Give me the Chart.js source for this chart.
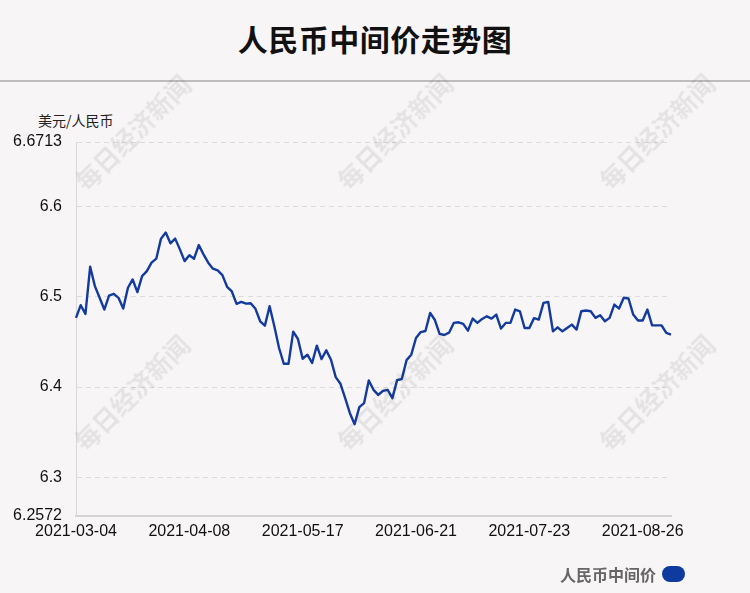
<!DOCTYPE html>
<html lang="zh-CN">
<head>
<meta charset="utf-8">
<title>人民币中间价走势图</title>
<script src="https://cdn.jsdelivr.net/npm/chart.js@4/dist/chart.umd.min.js"></script>
<style>
  html, body { margin: 0; padding: 0; }
  body { width: 750px; height: 593px; background: #f8f5f6; position: relative; overflow: hidden;
         font-family: "Liberation Sans", Arial, "Noto Sans CJK SC", sans-serif; }
  #title { position: absolute; left: 0; top: 16px; width: 750px; text-align: center;
           font: bold 30px "Noto Sans CJK SC", sans-serif; color: #111; letter-spacing: 0.5px; }
  #rule { position: absolute; left: 0; top: 80px; width: 750px; height: 2px; background: #bdbdbd; }
  #unit { position: absolute; left: 38px; top: 110px; font: 14px "Noto Sans CJK SC", sans-serif; color: #222; }
  #chartBox { position: absolute; left: 0; top: 0; width: 750px; height: 593px; }
  .wm { position: absolute; transform: translate(-50%, -50%) rotate(-45deg);
        font: bold 25px "Noto Sans CJK SC", sans-serif; color: rgba(0,0,0,0.075);
        white-space: nowrap; pointer-events: none; }
  #legend { position: absolute; left: 560px; top: 562px; display: flex; align-items: center;
            font: bold 16px "Noto Sans CJK SC", sans-serif; color: #666; }
  #legend .pill { display: inline-block; width: 23px; height: 16px; border-radius: 8px;
                  background: #0f3aa0; margin-left: 6px; }
</style>
</head>
<body>
<div id="title">人民币中间价走势图</div>
<div id="rule"></div>
<div id="unit">美元/人民币</div>
<div id="chartBox"><canvas id="rateChart" width="750" height="593"></canvas></div>
<div class="wm" style="left:132px;top:132px">每日经济新闻</div>
<div class="wm" style="left:394px;top:131px">每日经济新闻</div>
<div class="wm" style="left:656px;top:131px">每日经济新闻</div>
<div class="wm" style="left:131px;top:392px">每日经济新闻</div>
<div class="wm" style="left:394px;top:392px">每日经济新闻</div>
<div class="wm" style="left:656px;top:392px">每日经济新闻</div>
<div id="legend">人民币中间价<span class="pill"></span></div>

<script>
// ---- Data ----
const dates = [
  '2021-03-04','2021-03-05','2021-03-08','2021-03-09','2021-03-10','2021-03-11','2021-03-12',
  '2021-03-15','2021-03-16','2021-03-17','2021-03-18','2021-03-19','2021-03-22','2021-03-23',
  '2021-03-24','2021-03-25','2021-03-26','2021-03-29','2021-03-30','2021-03-31',
  '2021-04-01','2021-04-02','2021-04-06','2021-04-07','2021-04-08','2021-04-09','2021-04-12',
  '2021-04-13','2021-04-14','2021-04-15','2021-04-16','2021-04-19','2021-04-20','2021-04-21',
  '2021-04-22','2021-04-23','2021-04-26','2021-04-27','2021-04-28','2021-04-29','2021-04-30',
  '2021-05-06','2021-05-07','2021-05-10','2021-05-11','2021-05-12','2021-05-13','2021-05-14',
  '2021-05-17','2021-05-18','2021-05-19','2021-05-20','2021-05-21','2021-05-24','2021-05-25',
  '2021-05-26','2021-05-27','2021-05-28','2021-05-31',
  '2021-06-01','2021-06-02','2021-06-03','2021-06-04','2021-06-07','2021-06-08','2021-06-09',
  '2021-06-10','2021-06-11','2021-06-15','2021-06-16','2021-06-17','2021-06-18','2021-06-21',
  '2021-06-22','2021-06-23','2021-06-24','2021-06-25','2021-06-28','2021-06-29','2021-06-30',
  '2021-07-01','2021-07-02','2021-07-05','2021-07-06','2021-07-07','2021-07-08','2021-07-09',
  '2021-07-12','2021-07-13','2021-07-14','2021-07-15','2021-07-16','2021-07-19','2021-07-20',
  '2021-07-21','2021-07-22','2021-07-23','2021-07-26','2021-07-27','2021-07-28','2021-07-29',
  '2021-07-30',
  '2021-08-02','2021-08-03','2021-08-04','2021-08-05','2021-08-06','2021-08-09','2021-08-10',
  '2021-08-11','2021-08-12','2021-08-13','2021-08-16','2021-08-17','2021-08-18','2021-08-19',
  '2021-08-20','2021-08-23','2021-08-24','2021-08-25','2021-08-26','2021-08-27','2021-08-30',
  '2021-08-31','2021-09-01','2021-09-02','2021-09-03'
];

const rates = [
  6.4766, 6.4906, 6.4810, 6.5332, 6.5117, 6.4988, 6.4858, 6.5013, 6.5032, 6.4988,
  6.4869, 6.5099, 6.5191, 6.5050, 6.5228, 6.5283, 6.5377, 6.5421, 6.5643, 6.5710,
  6.5591, 6.5643, 6.5524, 6.5394, 6.5458, 6.5421, 6.5572, 6.5469, 6.5377, 6.5310,
  6.5291, 6.5239, 6.5110, 6.5058, 6.4921, 6.4943, 6.4924, 6.4928, 6.4866, 6.4728,
  6.4680, 6.4894, 6.4672, 6.4432, 6.4258, 6.4258, 6.4613, 6.4532, 6.4313, 6.4358,
  6.4266, 6.4458, 6.4310, 6.4406, 6.4302, 6.4110, 6.4036, 6.3877, 6.3710, 6.3588,
  6.3777, 6.3821, 6.4072, 6.3969, 6.3913, 6.3958, 6.3969, 6.3877, 6.4076, 6.4089,
  6.4298, 6.4358, 6.4543, 6.4608, 6.4620, 6.4821, 6.4742, 6.4588, 6.4576, 6.4602,
  6.4710, 6.4717, 6.4699, 6.4624, 6.4758, 6.4710, 6.4754, 6.4783, 6.4758, 6.4802,
  6.4647, 6.4710, 6.4710, 6.4858, 6.4839, 6.4654, 6.4654, 6.4763, 6.4747, 6.4932,
  6.4941, 6.4617, 6.4661, 6.4617, 6.4654, 6.4691, 6.4636, 6.4839, 6.4847, 6.4839,
  6.4766, 6.4794, 6.4728, 6.4766, 6.4913, 6.4869, 6.4988, 6.4980, 6.4802, 6.4736,
  6.4736, 6.4858, 6.4683, 6.4683, 6.4683, 6.4599, 6.4580
];

const yMin = 6.2572;
const yMax = 6.6713;
const yTicks = [6.2572, 6.3, 6.4, 6.5, 6.6, 6.6713];
const yTickLabels = ['6.2572', '6.3', '6.4', '6.5', '6.6', '6.6713'];
const xLabelEvery = 24;

// ---- Chart ----
const tickFont = { family: '"Liberation Sans", Arial, sans-serif', size: 16 };

new Chart(document.getElementById('rateChart').getContext('2d'), {
  type: 'line',
  data: {
    labels: dates,
    datasets: [{
      label: '人民币中间价',
      data: rates,
      borderColor: '#133b9e',
      borderWidth: 2.4,
      borderJoinStyle: 'round',
      pointRadius: 0,
      tension: 0,
      fill: false
    }]
  },
  options: {
    responsive: false,
    animation: false,
    layout: { padding: { top: 142, right: 79, bottom: 47, left: 0 } },
    plugins: { legend: { display: false }, tooltip: { enabled: false } },
    scales: {
      x: {
        grid: { display: false, drawTicks: false },
        border: { display: true, color: '#d3d3d3', width: 2 },
        ticks: {
          autoSkip: false,
          maxRotation: 0,
          padding: 6,
          color: '#111',
          font: tickFont,
          callback: (v, i) => (i % xLabelEvery === 0 ? dates[i] : '')
        },
        afterFit: s => { s.height = 30; }
      },
      y: {
        min: yMin,
        max: yMax,
        afterBuildTicks: s => { s.ticks = yTicks.map(v => ({ value: v })); },
        grid: { color: '#dcdcdc', lineWidth: 1, drawTicks: false },
        border: { display: true, color: '#d8d8d8', width: 1, dash: [5, 4] },
        ticks: {
          padding: 14,
          color: '#111',
          font: tickFont,
          callback: (v, i) => yTickLabels[i]
        },
        afterFit: s => { s.width = 76; }
      }
    }
  }
});
</script>
</body>
</html>
